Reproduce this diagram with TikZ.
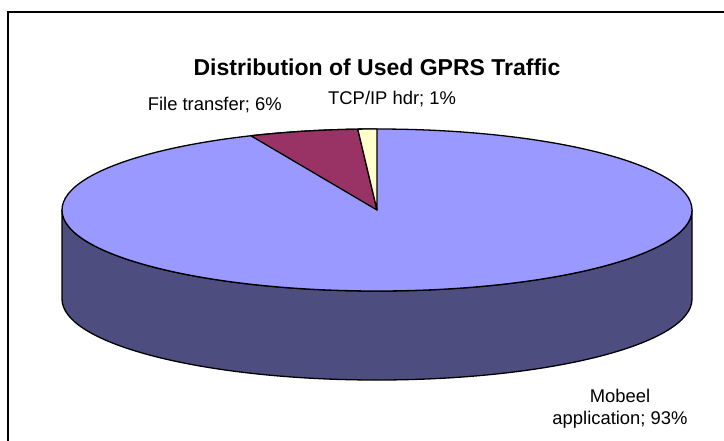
\documentclass[tikz,border=0pt]{standalone}
\usepackage{fontspec}
\setmainfont{Liberation Sans}
\definecolor{mobtop}{HTML}{9999FF}
\definecolor{mobside}{HTML}{4D4D80}
\definecolor{filecol}{HTML}{993366}
\definecolor{tcpcol}{HTML}{FFFFCC}
\begin{document}
\begin{tikzpicture}[x=1pt,y=-1pt,
  edge/.style={draw=black,line width=1.3pt,line join=round},
  lbl/.style={font=\fontsize{18.4}{21.5}\selectfont,inner sep=0pt},
  ttl/.style={font=\bfseries\fontsize{23}{26}\selectfont,inner sep=0pt}]
\useasboundingbox (0,0) rectangle (724,440);
\clip (0,0) rectangle (724,440);
% chart frame (runs past the right and bottom edges)
\draw[line width=2pt] (8,12) rectangle (760,480);
% pie centre
\coordinate (c) at (377,210);
% front wall of the 3-D pie
\path[edge,fill=mobside] (62,210) -- (62,299)
  arc[start angle=180,end angle=0,x radius=315,y radius=81]
  -- (692,210)
  arc[start angle=0,end angle=180,x radius=315,y radius=81] -- cycle;
% top face: Mobeel application
\path[edge,fill=mobtop] (c) ellipse[x radius=315,y radius=81];
% File transfer slice
\path[edge,fill=filecol] (c) -- ++(-113.6:315 and 81)
  arc[start angle=-113.6,end angle=-93.5,x radius=315,y radius=81] -- cycle;
% TCP/IP header slice
\path[edge,fill=tcpcol] (c) -- ++(-93.5:315 and 81)
  arc[start angle=-93.5,end angle=-90,x radius=315,y radius=81] -- cycle;
% texts
\node[ttl,anchor=base] (title) at (377,75) {Distribution of Used GPRS Traffic};
\node[lbl,anchor=base east] (filelbl) at (282,110) {File transfer; 6\%};
\node[lbl,anchor=base west] (tcplbl) at (328,104) {TCP/IP hdr; 1\%};
\node[lbl,align=center,anchor=north] (moblbl) at (620,389) {Mobeel\\application; 93\%};
\end{tikzpicture}
\end{document}
